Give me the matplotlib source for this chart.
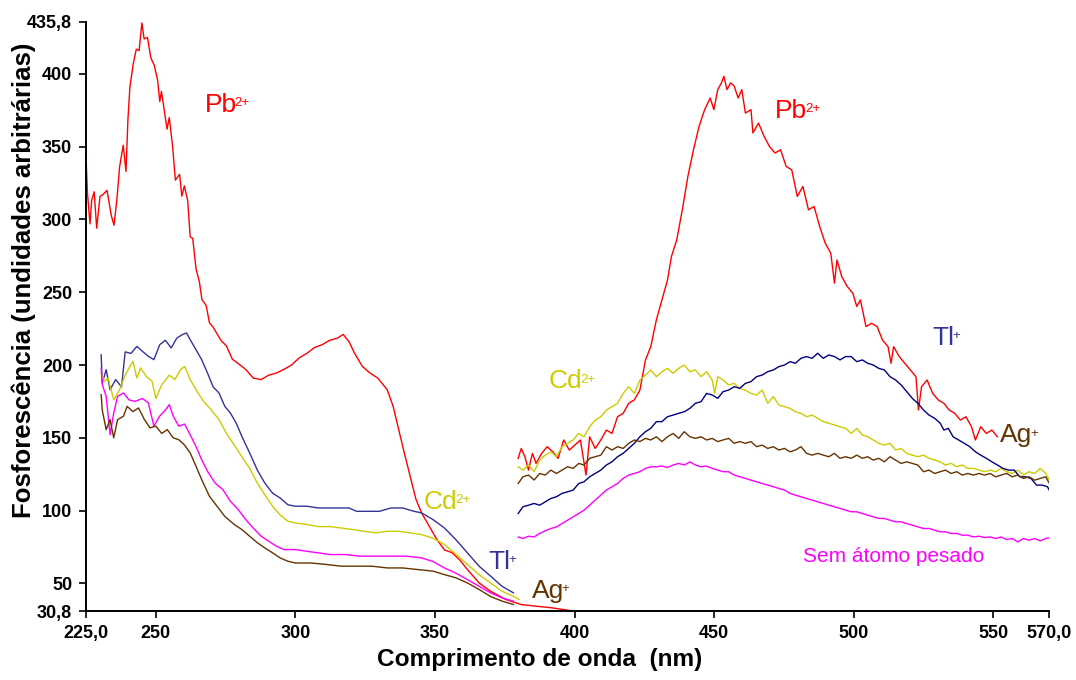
import matplotlib
matplotlib.use("Agg")
import matplotlib.pyplot as plt

plt.rcParams.update({
    "font.family": ["Liberation Sans", "DejaVu Sans"],
    "font.size": 12,
})

# --- excitation spectra (225-400 nm) ---
pb_exc_nm = [225, 225.5, 226.4, 227, 227.9, 228.8, 230, 231, 232.5, 234, 235, 236, 237, 238.3,
             239.3, 240, 240.7, 241.9, 243, 244, 245, 245.8, 247, 248.2, 249.4, 250.6, 251.4,
             252, 253, 254, 254.8, 256, 257, 258.5, 259.3, 260.2, 261.4, 262.3, 263.2, 264.4,
             265.6, 266.5, 268, 269.2, 270.5, 273.3, 275.3, 277.4, 279.5, 282.2, 284.9, 287.7,
             290.4, 293.2, 295.9, 298.6, 301.4, 304.1, 306.8, 309.6, 312.3, 315.1, 317.1,
             319.2, 321.2, 324, 326.7, 329.5, 332.9, 335, 337, 339, 341.1, 343.2, 345.2, 348,
             350.7, 353.4, 356.2, 358.9, 361.6, 365.8, 369.9, 375.3, 380.8, 386.3, 391.8, 400]
pb_exc_val = [342, 318, 297, 313, 319, 294, 316, 317, 320, 303, 296, 313, 336, 351,
              333, 369, 391, 407, 417, 416, 435, 424, 425, 411, 406, 396, 381,
              388, 375, 362, 370, 350, 327, 331, 316, 323, 313, 288, 287, 266,
              257, 245, 241, 229, 226, 217, 213, 204, 201, 197, 191, 190,
              193, 194.5, 197, 200, 205, 208, 212, 214, 217, 218.5, 221,
              216, 208, 199, 194.5, 191, 183, 171.6, 155.6, 139.6, 123.6, 107.6, 98.4, 89,
              80, 73, 71, 66, 59.5, 50.3, 44.6, 39, 35.5, 34.3, 33.2, 30.9]

tl_exc_nm = [230.4, 230.8, 232.2, 233.6, 235.6, 237.7, 239, 241.1, 243.2, 245.2, 247.3, 249.3,
             251.4, 253.4, 255.5, 257.5, 259.6, 261, 262.3, 264.4, 266.4, 268.5, 270.5, 272.6,
             274.7, 276.7, 278.8, 280.8, 283.6, 286.3, 289, 291.8, 294.5, 297.3, 300, 304.1,
             308.2, 312.3, 316.4, 319.2, 321.9, 326, 330.1, 334.2, 338.4, 342.5, 345.2, 349.3,
             353.4, 357.5, 361.6, 365.8, 369.9, 374, 378.1]
tl_exc_val = [207, 187.6, 196.8, 183, 190, 185, 209, 208, 212.8, 209.4, 206, 203.7,
              214, 217, 211.7, 218.5, 221, 222, 217.4, 210.5, 203.7, 194.5, 185, 180.8,
              171.6, 167, 160, 151, 139.6, 128, 119, 112, 108.7, 104, 103, 103,
              101.8, 101.8, 101.8, 101.8, 99.5, 99.5, 99.5, 101.8, 101.8, 99.5, 98.4, 93.8,
              88, 80, 71, 61.8, 55, 48, 43.5]

cd_exc_nm = [230.4, 231.5, 232.9, 234.9, 237, 239, 240.4, 241.8, 243.2, 244.5, 246.6, 248.6,
             250, 252.1, 254.8, 256.8, 258.9, 260.3, 262.3, 264.4, 267.1, 269.9, 272.6, 275.3,
             278.1, 280.8, 283.6, 286.3, 289, 291.8, 294.5, 297.3, 300, 304.1, 308.2, 312.3,
             316.4, 320.5, 324.7, 328.8, 332.9, 337, 341.1, 345.2, 349.3, 353.4, 357.5, 361.6,
             365.8, 369.9, 374, 378.1, 380.1]
cd_exc_val = [194.5, 188.8, 191, 176, 183, 193, 198, 202.5, 191, 198, 192, 189,
              177, 186.5, 193, 190, 197, 199, 190, 183, 175, 169, 162.5, 153,
              145, 137, 129, 119, 111, 103, 97, 92.7, 91.5, 90.4, 89, 89,
              88, 87, 85.8, 84.7, 85.8, 85.8, 84.7, 83.5, 81, 76.7, 70, 63,
              56, 50.3, 44.6, 41, 39]

free_exc_nm = [230.4, 230.8, 232.2, 233.6, 234.9, 236.3, 238.4, 240.4, 242.5, 245.2, 247.3,
               249.3, 251.4, 253.4, 254.8, 256.2, 258.2, 260.3, 262.3, 264.4, 266.4, 268.5,
               271.2, 274, 276.7, 279.5, 282.2, 284.9, 287.7, 290.4, 293.2, 295.9, 300, 304.1,
               308.2, 312.3, 317.8, 323.3, 328.8, 334.2, 339.7, 345.2, 349.3, 353.4, 357.5,
               361.6, 365.8, 369.9, 374, 378.1]
free_exc_val = [198, 186.5, 178.5, 152, 167, 178.5, 180.8, 176, 175, 177, 174,
                158, 165, 169, 172.8, 165, 158, 159.4, 152, 144, 135, 127,
                119, 114.4, 106.4, 100.7, 93.8, 88, 82.4, 79, 75.5, 73.2, 73.2, 72,
                71, 69.8, 69.8, 68.7, 68.7, 68.7, 68.7, 67.5, 65, 60.6, 57,
                52.6, 48, 43.5, 40, 37.8]

ag_exc_nm = [230.4, 230.8, 232.2, 233.6, 234.9, 236.3, 238.4, 239.7, 241.8, 243.8, 245.9,
             247.9, 250, 252.1, 254.1, 256.2, 258.2, 260.3, 262.3, 264.4, 266.4, 269.2, 271.9,
             274.7, 278.1, 280.8, 283.6, 286.3, 289, 291.8, 294.5, 297.3, 300, 305.5, 311,
             316.4, 321.9, 327.4, 332.9, 338.4, 343.8, 349.3, 353.4, 357.5, 361.6, 365.8,
             369.9, 374, 378.1]
ag_exc_val = [179.6, 169, 155.6, 162.5, 150, 162.5, 164.8, 171.6, 168, 170.5, 162.5,
              156.8, 158, 153, 155.6, 150, 148.7, 145, 139.6, 130.4, 121.3, 109.8, 103,
              96, 90.4, 87, 82.4, 78, 74.4, 71, 67.5, 65.2, 64, 64, 63,
              61.8, 61.8, 61.8, 60.6, 60.6, 59.5, 58.4, 56, 53.8, 50.3, 45.8,
              41, 37.8, 35.5]

# --- emission spectra (380-570 nm) ---
pb_em_nm = [379.8, 380.9, 382.2, 383.5, 384.9, 386.2, 388.2, 390.2, 392.2, 394.1, 396.1, 398.1,
            400.1, 402.1, 404.1, 405.4, 407.4, 409.4, 411.4, 413.4, 415.4, 417.4, 419.4, 421.4,
            423.4, 425.4, 427.3, 429.3, 431.3, 433.3, 434.7, 436.6, 438.6, 440.6, 442.6, 444.6,
            446.6, 448.6, 449.9, 451.3, 452.6, 453.5, 454.6, 455.9, 457.2, 458.6, 459.9, 461.2,
            463.2, 463.9, 465.9, 467.9, 469.8, 471.8, 473.8, 475.8, 477.8, 479.8, 481.8, 483.8,
            485.8, 487.8, 489.8, 491.8, 493.1, 494, 495.7, 497.7, 499.7, 501.1, 502.4, 504.4,
            506.4, 508.4, 510.3, 512.3, 513.4, 514.3, 516.3, 518.3, 520.3, 522.3, 523.2, 524.3,
            526.3, 528.3, 530.3, 532.3, 534.2, 536.2, 538.2, 540.2, 542.2, 543.6, 545.5, 547.5,
            549.5, 551.5]
pb_em_val = [135.9, 142.7, 137, 127.8, 139.3, 132.4, 139.3, 143.9, 140.4, 135.9, 148.5, 141.6,
             145, 148.5, 124.4, 150.7, 142.7, 148.5, 155.3, 153, 164.5, 166.8, 173.7, 176,
             182.8, 203.5, 212.6, 231, 244.7, 258.5, 274.5, 286, 306.6, 329.6, 347.9, 363.9,
             375.4, 383.4, 375.4, 389.2, 393.8, 398.3, 389.2, 393.8, 391.5, 383.4, 389.2, 373.1,
             375.4, 359.4, 366.2, 357.1, 350.2, 345.6, 347.9, 336.4, 334.1, 315.8, 322.7, 306.6,
             308.9, 295.2, 283.7, 276.8, 256.2, 272.2, 260.8, 253.9, 249.3, 240.2, 244.7, 226.4,
             228.7, 226.4, 217.2, 212.6, 201.2, 212.6, 205.8, 201.2, 196.6, 192, 169.1, 185.1,
             189.7, 180.5, 176, 173.7, 169.1, 166.8, 162.2, 164.5, 157.6, 148.5, 157.6, 153,
             155.3, 150.7]

cd_em_nm = [379.8, 381.5, 383.5, 385.5, 387.5, 389.5, 391.5, 393.5, 395.5, 397.5, 399.5, 401.5,
            403.4, 405.4, 407.4, 409.4, 411.4, 413.4, 415.4, 417.4, 419.4, 421.4, 423.4, 425.4,
            427.3, 429.3, 431.3, 433.3, 435.3, 437.3, 439.3, 441.3, 443.3, 445.3, 447.3, 449.3,
            450.2, 451.3, 453.2, 455.2, 457.2, 459.2, 461.2, 463.2, 465.2, 467.2, 469.2, 471.2,
            473.2, 475.2, 477.2, 479.1, 481.1, 483.1, 485.1, 487.1, 489.1, 491.1, 493.1, 495.1,
            497.1, 499.1, 501.1, 503.1, 505, 507, 509, 511, 513, 515, 517, 519, 521, 523, 525,
            527, 529, 531, 532.9, 534.9, 536.9, 538.9, 540.9, 542.9, 544.9, 546.9, 548.9, 550.9,
            552.8, 554.8, 556.8, 558.8, 560.8, 562.8, 564.8, 566.8, 568.8, 570.1]
cd_em_val = [130.1, 127.8, 131.3, 126.7, 134.7, 138.1, 140.4, 137, 143.9, 146.2, 148.5, 153,
             150.7, 157.6, 162.2, 164.5, 169.1, 171.4, 173.7, 180.5, 185.1, 180.5, 189.7, 193.1,
             196.6, 192, 195.4, 197.7, 194.3, 197.7, 200, 195.4, 196.6, 192, 195.4, 189.7,
             180.5, 192, 189.7, 186.3, 187.4, 184, 182.8, 180.5, 179.4, 182.8, 173.7, 178.3,
             172.5, 171.4, 170.2, 167.9, 166.8, 164.5, 165.6, 163.4, 161.1, 160, 158.8, 157.6,
             156.5, 153, 156.5, 151.9, 150.7, 148.5, 146.2, 145, 146.2, 141.6, 142.7, 139.3,
             138.1, 137, 138.1, 135.9, 134.7, 133.5, 131.3, 132.4, 130.1, 131.3, 129, 129,
             127.8, 126.7, 127.8, 126.7, 129, 126.7, 125.5, 127.8, 124.4, 126.7, 125.5, 129,
             125.5, 120.9]

tl_em_nm = [379.8, 381.5, 383.5, 385.5, 387.5, 389.5, 391.5, 393.5, 395.5, 397.5, 399.5, 401.5,
            403.4, 405.4, 407.4, 409.4, 411.4, 413.4, 415.4, 417.4, 419.4, 421.4, 423.4, 425.4,
            427.3, 429.3, 431.3, 433.3, 435.3, 437.3, 439.3, 441.3, 443.3, 445.3, 447.3, 449.3,
            451.3, 453.2, 455.2, 457.2, 459.2, 461.2, 463.2, 465.2, 467.2, 469.2, 471.2, 473.2,
            475.2, 477.2, 479.1, 481.1, 483.1, 485.1, 487.1, 489.1, 491.1, 493.1, 495.1, 497.1,
            499.1, 501.1, 503.1, 505, 507, 509, 511, 513, 515, 517, 519, 521, 523, 525, 527,
            529, 531, 532.3, 533.9, 535.6, 537.6, 539.6, 541.6, 543.6, 545.5, 547.5, 549.5,
            551.5, 553.5, 555.5, 557.5, 559.5, 561.5, 563.5, 565.5, 567.5, 569.4, 570.4]
tl_em_val = [98, 102.6, 103.7, 104.9, 103.7, 106, 108.3, 109.5, 111.8, 112.9, 114.1, 118.6,
             119.8, 123.2, 125.5, 127.8, 131.3, 133.5, 137, 139.3, 142.7, 146.2, 150.7, 154.2,
             156.5, 161.1, 161.1, 164.5, 165.6, 166.8, 167.9, 170.2, 173.7, 174.8, 180.5, 179.4,
             177.1, 181.7, 182.8, 185.1, 184, 187.4, 188.6, 192, 193.1, 195.4, 196.6, 198.9,
             200, 202.3, 201.2, 204.6, 205.8, 204.6, 208.1, 204.6, 206.9, 205.8, 203.5, 205.8,
             205.8, 202.3, 203.5, 201.2, 200, 197.7, 196.6, 192, 189.7, 186.3, 181.7, 177.1,
             173.7, 169.1, 165.6, 163.4, 160, 155.3, 156.5, 150.7, 148.5, 146.2, 143.9, 140.4,
             138.1, 135.9, 133.5, 131.3, 129, 127.8, 127.8, 123.2, 123.2, 122.1, 117.5, 117.5,
             116.4, 112.9]

ag_em_nm = [379.8, 381.5, 383.5, 385.5, 387.5, 389.5, 391.5, 393.5, 395.5, 397.5, 399.5, 401.5,
            403.4, 405.4, 407.4, 409.4, 411.4, 413.4, 415.4, 417.4, 419.4, 421.4, 423.4, 425.4,
            427.3, 429.3, 431.3, 433.3, 435.3, 437.3, 439.3, 441.3, 443.3, 445.3, 447.3, 449.3,
            451.3, 453.2, 455.2, 457.2, 459.2, 461.2, 463.2, 465.2, 467.2, 469.2, 471.2, 473.2,
            475.2, 477.2, 479.1, 481.1, 483.1, 485.1, 487.1, 489.1, 491.1, 493.1, 495.1, 497.1,
            499.1, 501.1, 503.1, 505, 507, 509, 511, 513, 515, 517, 519, 521, 523, 525, 527,
            529, 531, 532.9, 534.9, 536.9, 538.9, 540.9, 542.9, 544.9, 546.9, 548.9, 550.9,
            552.8, 554.8, 556.8, 558.8, 560.8, 562.8, 564.8, 566.8, 568.8, 570.1]
ag_em_val = [118.6, 123.2, 124.4, 121, 125.5, 124.4, 127.8, 125.5, 127.8, 130.1, 129, 132.4,
             131.3, 135.9, 137, 138.1, 143.9, 141.6, 143.9, 142.7, 146.2, 148.5, 147.4, 149.6,
             148.5, 150.7, 147.4, 150.7, 153, 149.6, 154.2, 150.7, 149.6, 150.7, 148.5, 149.6,
             147.4, 148.5, 149.6, 146.2, 147.4, 146.2, 147.4, 143.9, 145, 142.7, 143.9, 141.6,
             142.7, 140.4, 141.6, 143.9, 139.3, 138.1, 139.3, 138.1, 137, 139.3, 135.9, 137,
             135.9, 138.1, 135.9, 137, 134.7, 135.9, 133.5, 137, 134.7, 132.4, 133.5, 132.4,
             131.3, 126.7, 127.8, 125.5, 126.7, 127.8, 125.5, 126.7, 124.4, 125.5, 124.4, 125.5,
             124.4, 125.5, 123.2, 124.4, 125.5, 123.2, 124.4, 122.1, 123.2, 120.9, 122.1, 123.2,
             118.6]

free_em_nm = [379.8, 381.5, 383.5, 385.5, 387.5, 389.5, 391.5, 393.5, 395.5, 397.5, 399.5,
              401.5, 403.4, 405.4, 407.4, 409.4, 411.4, 413.4, 415.4, 417.4, 419.4, 421.4,
              423.4, 425.4, 427.3, 429.3, 431.3, 433.3, 435.3, 437.3, 439.3, 441.3, 443.3,
              445.3, 447.3, 449.3, 451.3, 453.2, 455.2, 457.2, 459.2, 461.2, 463.2, 465.2,
              467.2, 469.2, 471.2, 473.2, 475.2, 477.2, 479.1, 481.1, 483.1, 485.1, 487.1,
              489.1, 491.1, 493.1, 495.1, 497.1, 499.1, 501.1, 503.1, 505, 507, 509, 511, 513,
              515, 517, 519, 521, 523, 525, 527, 529, 531, 532.9, 534.9, 536.9, 538.9, 540.9,
              542.9, 544.9, 546.9, 548.9, 550.9, 552.8, 554.8, 556.8, 558.8, 560.8, 562.8,
              564.8, 566.8, 568.8, 571.4]
free_em_val = [81.9, 80.8, 82.4, 81.9, 84.3, 86.1, 87.7, 88.8, 91.1, 93.4, 95.7,
               98, 100.3, 103.7, 107.2, 110.6, 114.1, 116.4, 118.6, 122.1, 124.4, 125.5,
               126.7, 129, 130.1, 130.1, 130.6, 129.6, 131.3, 132.4, 131.3, 133.5, 131.3,
               130.1, 130.6, 129, 127.8, 126.7, 126.7, 124.4, 123.2, 122.1, 120.9, 119.8,
               118.6, 117.5, 116.4, 115.2, 114.1, 111.8, 110.6, 109.5, 108.3, 107.2, 106,
               104.9, 103.7, 102.6, 101.5, 100.3, 99.2, 99.2, 98, 96.9, 95.7, 94.6, 94.6, 93.4,
               92.3, 92.3, 91.1, 90, 88.8, 87.7, 87.7, 86.5, 85.4, 85.4, 84.3, 84.3, 83.1, 83.1,
               81.9, 82.4, 81.5, 81.9, 80.8, 81.9, 80.1, 80.8, 78.5, 80.8, 79.7,
               80.8, 79.2, 80.8, 81.9]

x_ticks = [225, 250, 300, 350, 400, 450, 500, 550, 570]
x_tick_labels = ["225,0", "250", "300", "350", "400", "450", "500", "550", "570,0"]
y_ticks = [30.8, 50, 100, 150, 200, 250, 300, 350, 400, 435.8]
y_tick_labels = ["30,8", "50", "100", "150", "200", "250", "300", "350", "400", "435,8"]

RED = "#ff0000"
YELLOW = "#cccc00"
BLUE = "#333399"
NAVY = "#000080"
BROWN = "#663300"
MAGENTA = "#ff00ff"

fig = plt.figure(figsize=(10.76, 6.8), dpi=100)
ax = fig.add_axes([0.080, 0.101, 0.895, 0.867])

lw = 1.0
ax.plot(pb_exc_nm, pb_exc_val, color=RED, lw=lw)
ax.plot(tl_exc_nm, tl_exc_val, color=BLUE, lw=lw)
ax.plot(cd_exc_nm, cd_exc_val, color=YELLOW, lw=lw)
ax.plot(free_exc_nm, free_exc_val, color=MAGENTA, lw=lw)
ax.plot(ag_exc_nm, ag_exc_val, color=BROWN, lw=lw)

ax.plot(pb_em_nm, pb_em_val, color=RED, lw=lw)
ax.plot(cd_em_nm, cd_em_val, color=YELLOW, lw=lw)
ax.plot(tl_em_nm, tl_em_val, color=NAVY, lw=lw)
ax.plot(ag_em_nm, ag_em_val, color=BROWN, lw=lw)
ax.plot(free_em_nm, free_em_val, color=MAGENTA, lw=lw)

ax.set_xlim(225, 570)
ax.set_ylim(30.8, 435.8)
ax.set_xticks(x_ticks, x_tick_labels)
ax.set_yticks(y_ticks, y_tick_labels)
for lab in ax.get_xticklabels() + ax.get_yticklabels():
    lab.set_fontweight("bold")
    lab.set_fontsize(13)
ax.tick_params(axis="x", direction="out", length=5, width=1.2, pad=5)
ax.tick_params(axis="y", direction="out", length=5, width=1.2, pad=5)
for side in ("top", "right"):
    ax.spines[side].set_visible(False)
for side in ("left", "bottom"):
    ax.spines[side].set_linewidth(1.4)

ax.set_xlabel("Comprimento de onda  (nm)", fontsize=17.6, fontweight="bold")
ax.set_ylabel("Fosforescência (undidades arbitrárias)", fontsize=18.5, fontweight="bold")
ax.xaxis.set_label_coords(0.471, -0.063)
ax.yaxis.set_label_coords(-0.052, 0.562)


def ion_label(x, y, base, charge, color):
    # ion symbol with a small raised charge right after it
    t = ax.text(x, y, base, color=color, fontsize=19, ha="left", va="baseline")
    ax.annotate(charge, xy=(1, 0), xycoords=t, xytext=(-1.5, 5.5), textcoords="offset points",
                color=color, fontsize=9.5, ha="left", va="bottom")


ion_label(267.5, 374, "Pb", "2+", RED)
ion_label(471.8, 370, "Pb", "2+", RED)
ion_label(346, 101, "Cd", "2+", YELLOW)
ion_label(390.7, 184, "Cd", "2+", YELLOW)
ion_label(369.3, 60, "Tl", "+", BLUE)
ion_label(528.2, 214, "Tl", "+", BLUE)
ion_label(384.6, 40, "Ag", "+", BROWN)
ion_label(552.5, 147, "Ag", "+", BROWN)
ax.text(481.8, 68.6, "Sem átomo pesado", color=MAGENTA, fontsize=15, ha="left", va="center")

fig.savefig("out.png", dpi=100)
